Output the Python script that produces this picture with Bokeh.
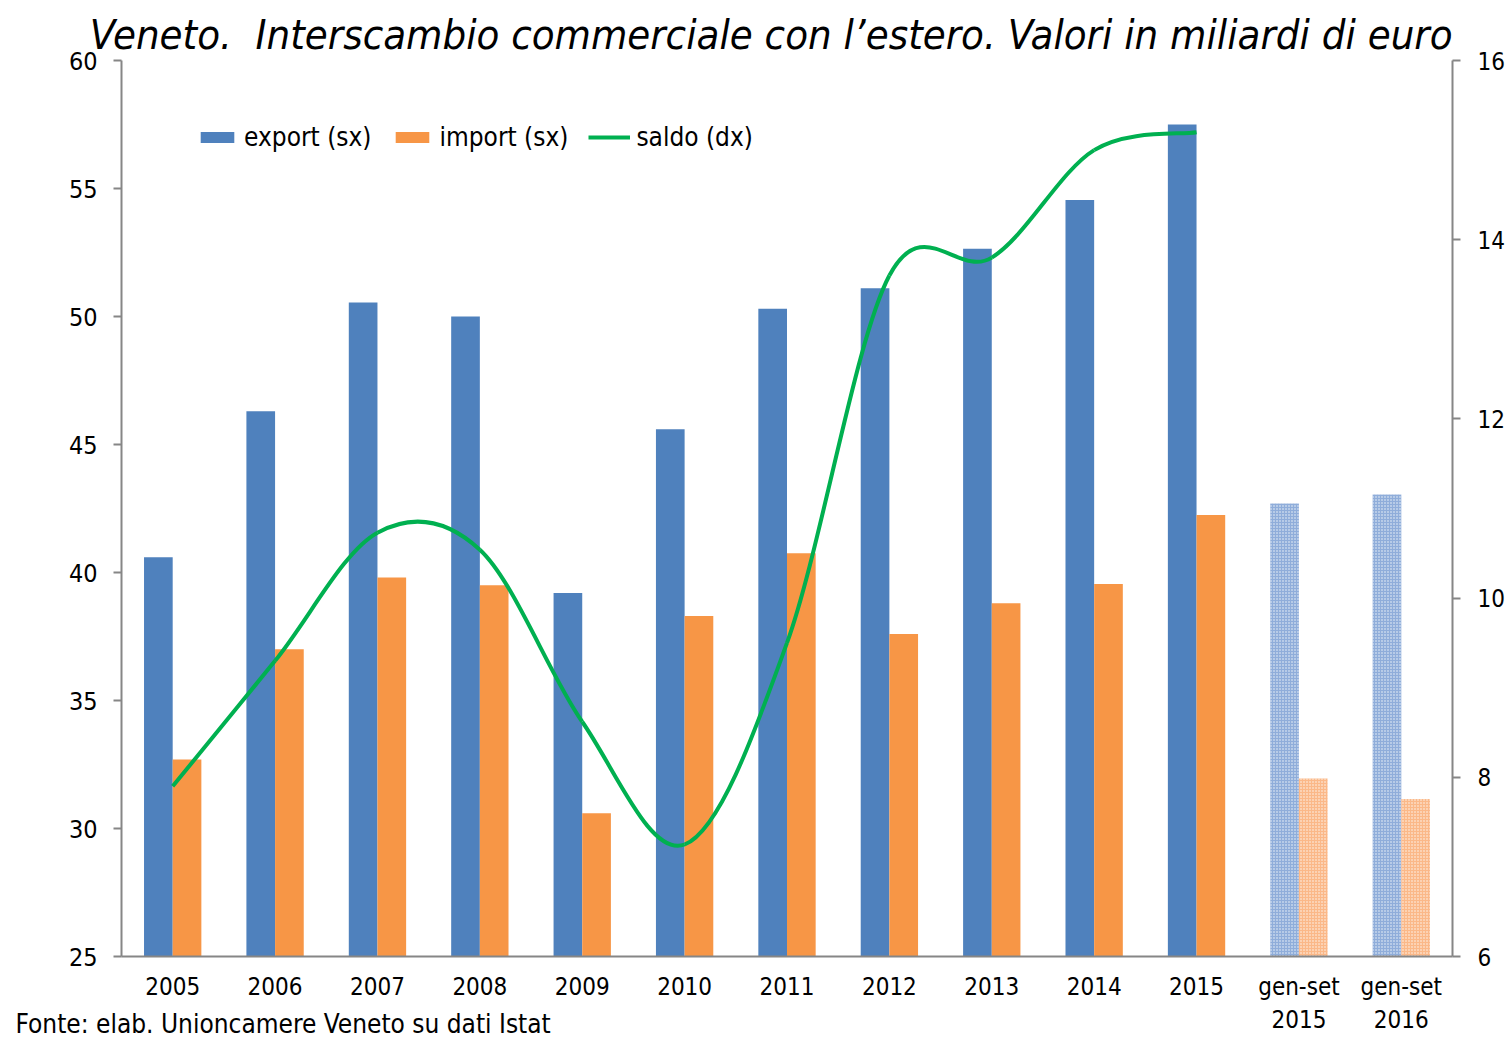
from bokeh.plotting import figure
from bokeh.models import (Range1d, LinearAxis, FixedTicker, Legend, LegendItem,
                          Title, ColumnDataSource)
from bokeh.embed import file_html
from bokeh.resources import INLINE

# ---------------- data ----------------
categories = ["2005", "2006", "2007", "2008", "2009", "2010", "2011", "2012",
              "2013", "2014", "2015", "gen-set\n2015", "gen-set\n2016"]
export_sx = [40.6, 46.3, 50.55, 50.0, 39.2, 45.6, 50.3, 51.1, 52.65, 54.55, 57.5,
             42.7, 43.05]
import_sx = [32.7, 37.0, 39.8, 39.5, 30.6, 38.3, 40.75, 37.6, 38.8, 39.55, 42.25,
             31.95, 31.15]
saldo_dx = [7.9, 9.3, 10.73, 10.54, 8.62, 7.25, 9.5, 13.6, 13.8, 15.0, 15.2]
left_ticks = [25, 30, 35, 40, 45, 50, 55, 60]
right_ticks = [6, 8, 10, 12, 14, 16]

TITLE = "Veneto.\u00a0 Interscambio commerciale con l\u2019estero. Valori in miliardi di euro"
FOOTER = "Fonte: elab. Unioncamere Veneto su dati Istat"

BLUE = "#4f81bd"
ORANGE = "#f79646"
GREEN = "#00b050"
AXIS = "#868686"
FONT = "DejaVu Sans Condensed"

n = len(categories)
n_full = len(saldo_dx)
centers = [i + 0.5 for i in range(n)]
bw = 0.28

p = figure(width=1510, height=1037, output_backend="svg", toolbar_location=None,
           x_range=Range1d(0, n), y_range=Range1d(left_ticks[0], left_ticks[-1]),
           min_border_left=121, min_border_right=58, min_border_top=60,
           min_border_bottom=80)
p.extra_y_ranges = {"dx": Range1d(right_ticks[0], right_ticks[-1])}
p.outline_line_color = None
p.xgrid.visible = False
p.ygrid.visible = False
p.background_fill_color = "white"
p.border_fill_color = "white"

# title
p.title.text = TITLE
p.title.text_font = FONT
p.title.text_font_style = "italic"
p.title.text_font_size = "41.5px"
p.title.text_color = "black"
p.title.align = "right"
p.title.offset = 0
p.title.standoff = 4

# bars: full years (solid) and partial periods (textured)
src_full = ColumnDataSource(dict(
    xe=[c - bw / 2 for c in centers[:n_full]],
    xi=[c + bw / 2 for c in centers[:n_full]],
    e=export_sx[:n_full], im=import_sx[:n_full]))
src_part = ColumnDataSource(dict(
    xe=[c - bw / 2 for c in centers[n_full:]],
    xi=[c + bw / 2 for c in centers[n_full:]],
    e=export_sx[n_full:], im=import_sx[n_full:]))

r_exp = p.vbar(x="xe", top="e", bottom=left_ticks[0], width=bw, source=src_full,
               fill_color=BLUE, line_color=None)
r_imp = p.vbar(x="xi", top="im", bottom=left_ticks[0], width=bw, source=src_full,
               fill_color=ORANGE, line_color=None)
p.vbar(x="xe", top="e", bottom=left_ticks[0], width=bw, source=src_part,
       fill_color="#8fadda", line_color=None,
       hatch_pattern="dot", hatch_color="white", hatch_scale=3, hatch_weight=1,
       hatch_alpha=0.9)
p.vbar(x="xi", top="im", bottom=left_ticks[0], width=bw, source=src_part,
       fill_color="#fbb888", line_color=None,
       hatch_pattern="dot", hatch_color="white", hatch_scale=3, hatch_weight=1,
       hatch_alpha=0.9)

# smoothed saldo line (Catmull-Rom style bezier through the data points)
xs = centers[:n_full]
ys = saldo_dx
x0, y0, x1, y1, cx0, cy0, cx1, cy1 = [], [], [], [], [], [], [], []
for i in range(n_full - 1):
    ip = max(i - 1, 0)
    inn = min(i + 2, n_full - 1)
    x0.append(xs[i]); y0.append(ys[i])
    x1.append(xs[i + 1]); y1.append(ys[i + 1])
    cx0.append(xs[i] + (xs[i + 1] - xs[ip]) / 6)
    cy0.append(ys[i] + (ys[i + 1] - ys[ip]) / 6)
    cx1.append(xs[i + 1] - (xs[inn] - xs[i]) / 6)
    cy1.append(ys[i + 1] - (ys[inn] - ys[i]) / 6)
r_sal = p.bezier(x0=x0, y0=y0, x1=x1, y1=y1, cx0=cx0, cy0=cy0, cx1=cx1, cy1=cy1,
                 y_range_name="dx", line_color=GREEN, line_width=4)

# axes
xa = p.xaxis[0]
xa.ticker = FixedTicker(ticks=centers)
xa.major_label_overrides = {c: lab for c, lab in zip(centers, categories)}
xa.major_tick_line_color = None
xa.minor_tick_line_color = None
xa.axis_line_color = AXIS
xa.axis_line_width = 2
xa.major_label_text_font = FONT
xa.major_label_text_font_size = "24px"
xa.major_label_text_color = "black"
xa.major_label_standoff = 10

ya = p.yaxis[0]
ya.ticker = FixedTicker(ticks=left_ticks)
ya.minor_tick_line_color = None
ya.major_tick_in = 0
ya.major_tick_out = 8
ya.major_tick_line_color = AXIS
ya.major_tick_line_width = 2
ya.axis_line_color = AXIS
ya.axis_line_width = 2
ya.major_label_text_font = FONT
ya.major_label_text_font_size = "25px"
ya.major_label_text_color = "black"
ya.major_label_standoff = 16

ra = LinearAxis(y_range_name="dx", ticker=FixedTicker(ticks=right_ticks))
ra.minor_tick_line_color = None
ra.major_tick_in = 0
ra.major_tick_out = 8
ra.major_tick_line_color = AXIS
ra.major_tick_line_width = 2
ra.axis_line_color = AXIS
ra.axis_line_width = 2
ra.major_label_text_font = FONT
ra.major_label_text_font_size = "24px"
ra.major_label_text_color = "black"
ra.major_label_standoff = 17
p.add_layout(ra, "right")

# legend
legend = Legend(items=[LegendItem(label="export (sx)", renderers=[r_exp]),
                       LegendItem(label="import (sx)", renderers=[r_imp]),
                       LegendItem(label="saldo (dx)", renderers=[r_sal])],
                orientation="horizontal", location=(75, 804),
                border_line_color=None, background_fill_alpha=0,
                label_text_font=FONT, label_text_font_size="26px",
                label_text_color="black",
                glyph_width=42, glyph_height=14, spacing=20, padding=0,
                label_standoff=6, margin=0)
p.add_layout(legend)

# footer (source note)
footer = Title(text=FOOTER, align="left", vertical_align="top", offset=-106,
               standoff=-58, text_font=FONT, text_font_size="26px",
               text_font_style="normal", text_color="black")
p.add_layout(footer, "below")

open("out.html", "w").write(file_html(p, INLINE))
